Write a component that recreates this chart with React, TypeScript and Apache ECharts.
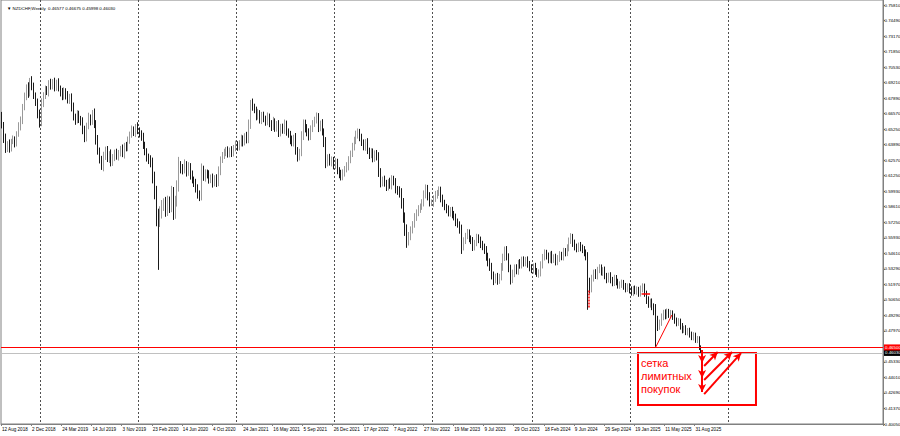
import React, { useEffect, useRef } from "react";
import * as echarts from "echarts";

// ---------- data ----------
const START_UTC = Date.UTC(2018, 7, 12); // first weekly bar: 12 Aug 2018
const SLOT_COUNT = 468; // bars + empty space on the right
const FIRST_OPEN = 0.662;
const TITLE_TEXT = "\u25BC NZDCHF,Weekly  0.46577 0.46675 0.45998 0.46030";
const LAST_SEPARATOR_YEAR = 2026;

const CLOSES = [
  0.6549, 0.644, 0.6345, 0.638, 0.6352, 0.641, 0.6421, 0.6395, 0.647, 0.653,
  0.6591, 0.67, 0.679, 0.6873, 0.682, 0.693, 0.688, 0.68, 0.6736, 0.665,
  0.6566, 0.6736, 0.68, 0.685, 0.683, 0.6907, 0.688, 0.692, 0.687, 0.6907,
  0.686, 0.683, 0.679, 0.684, 0.68, 0.676, 0.6788, 0.67, 0.6617, 0.659,
  0.664, 0.66, 0.6574, 0.651, 0.6438, 0.654, 0.6608, 0.658, 0.6651, 0.656,
  0.6421, 0.633, 0.625, 0.6191, 0.628, 0.6336, 0.626, 0.63, 0.6225, 0.627,
  0.631, 0.628, 0.631, 0.634, 0.63, 0.637, 0.6353, 0.642, 0.647, 0.6506,
  0.648, 0.6532, 0.65, 0.647, 0.6446, 0.638, 0.632, 0.6276, 0.625, 0.6225,
  0.61, 0.5969, 0.5764, 0.5738, 0.58, 0.586, 0.5883, 0.582, 0.59, 0.5849,
  0.5969, 0.5798, 0.59, 0.602, 0.62, 0.618, 0.6165, 0.621, 0.615, 0.6191,
  0.612, 0.608, 0.6054, 0.6, 0.596, 0.5935, 0.6165, 0.61, 0.614, 0.6122,
  0.608, 0.61, 0.6054, 0.609, 0.6054, 0.615, 0.625, 0.629, 0.631, 0.6336,
  0.63, 0.633, 0.631, 0.635, 0.638, 0.636, 0.6395, 0.643, 0.64, 0.645,
  0.6421, 0.655, 0.6736, 0.67, 0.6677, 0.662, 0.665, 0.6591, 0.663, 0.66,
  0.6574, 0.662, 0.656, 0.6532, 0.658, 0.652, 0.655, 0.6481, 0.653, 0.65,
  0.656, 0.6489, 0.647, 0.642, 0.6395, 0.644, 0.633, 0.6276, 0.631, 0.645,
  0.6566, 0.652, 0.648, 0.6446, 0.652, 0.656, 0.6591, 0.662, 0.6523, 0.656,
  0.6489, 0.64, 0.6225, 0.627, 0.623, 0.625, 0.62, 0.623, 0.616, 0.613,
  0.6105, 0.614, 0.617, 0.6191, 0.625, 0.63, 0.6361, 0.642, 0.646, 0.6489,
  0.644, 0.6395, 0.636, 0.64, 0.633, 0.6293, 0.632, 0.626, 0.63, 0.6276,
  0.615, 0.6054, 0.608, 0.605, 0.602, 0.606, 0.603, 0.609, 0.6063, 0.6,
  0.599, 0.5969, 0.588, 0.5764, 0.565, 0.556, 0.56, 0.5653, 0.57, 0.576,
  0.5798, 0.583, 0.585, 0.5883, 0.595, 0.6011, 0.594, 0.5883, 0.5883, 0.592,
  0.595, 0.5969, 0.5994, 0.592, 0.588, 0.5849, 0.583, 0.5798, 0.582, 0.578,
  0.5764, 0.572, 0.57, 0.5653, 0.5508, 0.556, 0.56, 0.5627, 0.558, 0.556,
  0.5508, 0.554, 0.559, 0.5568, 0.553, 0.551, 0.5483, 0.543, 0.538, 0.5338,
  0.527, 0.5227, 0.525, 0.522, 0.5252, 0.533, 0.542, 0.5483, 0.5423, 0.533,
  0.5227, 0.528, 0.533, 0.53, 0.5372, 0.535, 0.5397, 0.537, 0.5397, 0.536,
  0.533, 0.5312, 0.534, 0.53, 0.528, 0.5286, 0.535, 0.542, 0.5457, 0.543,
  0.54, 0.544, 0.5397, 0.542, 0.538, 0.541, 0.544, 0.542, 0.547, 0.5457,
  0.55, 0.556, 0.5593, 0.554, 0.5508, 0.549, 0.552, 0.55, 0.5483, 0.546,
  0.5423, 0.52, 0.515, 0.524, 0.5286, 0.526, 0.5312, 0.533, 0.529, 0.531,
  0.526, 0.523, 0.526, 0.5227, 0.52, 0.524, 0.521, 0.518, 0.5184, 0.5201,
  0.517, 0.515, 0.517, 0.5141, 0.512, 0.515, 0.513, 0.5141, 0.511, 0.515,
  0.5167, 0.511, 0.5056, 0.502, 0.504, 0.4996, 0.496, 0.4885, 0.483, 0.486,
  0.491, 0.4945, 0.492, 0.4954, 0.493, 0.494, 0.4911, 0.488, 0.486, 0.487,
  0.483, 0.48, 0.481, 0.4783, 0.479, 0.476, 0.474, 0.475, 0.4715, 0.472,
  0.46577, 0.4603,
];

// wick lengths in pips (0.0001) above the body top / below the body bottom
const UP_WICK_PIPS = [
  40, 25, 35, 30, 45, 20, 38, 30, 25, 42, 30, 28, 35, 22, 40, 20, 35, 30, 26, 38,
  30, 40, 28, 35, 30, 24, 36, 20, 32, 28, 40, 25, 35, 30, 22, 38, 26, 30, 40, 28,
  35, 30, 26, 40, 32, 28, 45, 30, 25, 38, 30, 42, 26, 35, 40, 28, 33, 25, 40, 30,
  28, 36, 25, 30, 42, 26, 34, 30, 22, 38, 30, 25, 40, 28, 33, 36, 25, 30, 28, 40,
  45, 50, 60, 70, 55, 48, 40, 52, 45, 38, 60, 50, 44, 56, 76, 40, 35, 45, 30, 40,
  32, 40, 28, 35, 42, 30, 55, 36, 30, 28, 40, 26, 34, 30, 38, 45, 30, 28, 36, 25,
  30, 26, 38, 28, 35, 30, 24, 36, 30, 28, 40, 45, 26, 38, 30, 28, 36, 25, 30, 32,
  28, 35, 26, 30, 38, 25, 32, 40, 28, 30, 35, 26, 30, 28, 38, 25, 40, 30, 35, 45,
  30, 28, 36, 40, 25, 30, 28, 35, 30, 26, 38, 30, 45, 28, 32, 30, 26, 35, 30, 28,
  36, 30, 28, 40, 32, 30, 35, 28, 40, 30, 26, 34, 30, 28, 36, 25, 30, 28, 32, 35,
  40, 30, 28, 36, 30, 26, 38, 30, 25, 32, 28, 35, 40, 45, 38, 50, 35, 30, 28, 36,
  30, 34, 28, 32, 40, 30, 26, 35, 30, 28, 36, 25, 30, 28, 34, 30, 26, 32, 28, 30,
  35, 28, 30, 26, 45, 30, 28, 34, 30, 26, 32, 28, 30, 25, 28, 30, 26, 32, 28, 30,
  34, 28, 30, 36, 26, 40, 30, 28, 32, 30, 26, 34, 28, 30, 25, 32, 28, 30, 26, 30,
  28, 30, 26, 32, 28, 30, 35, 28, 30, 26, 30, 28, 34, 25, 30, 28, 32, 26, 30, 28,
  30, 28, 32, 26, 30, 28, 25, 30, 28, 32, 26, 40, 45, 30, 28, 32, 26, 30, 28, 25,
  30, 26, 28, 32, 25, 30, 28, 26, 30, 28, 25, 30, 26, 28, 30, 25, 28, 30, 26, 28,
  30, 28, 25, 30, 26, 28, 30, 60, 35, 28, 30, 26, 30, 28, 25, 30, 26, 28, 25, 30,
  26, 28, 25, 30, 26, 28, 25, 30, 26, 28, 25, 10,
];
const DOWN_WICK_PIPS = [
  30, 45, 35, 28, 40, 30, 25, 38, 30, 22, 28, 35, 26, 30, 40, 28, 35, 30, 25, 45,
  40, 28, 35, 30, 26, 38, 30, 28, 35, 30, 25, 38, 30, 26, 34, 28, 32, 36, 30, 40,
  28, 35, 30, 40, 36, 30, 28, 35, 30, 38, 40, 35, 30, 26, 38, 30, 28, 35, 30, 26,
  30, 28, 35, 30, 26, 38, 30, 28, 32, 30, 26, 35, 30, 28, 32, 36, 30, 40, 35, 38,
  50, 55, 80, 426, 60, 50, 45, 55, 48, 52, 45, 60, 50, 48, 40, 45, 38, 30, 42, 35,
  38, 30, 35, 28, 40, 36, 30, 28, 35, 30, 32, 28, 40, 30, 35, 28, 30, 26, 32, 28,
  30, 28, 35, 30, 26, 32, 28, 30, 35, 26, 30, 28, 35, 30, 28, 32, 26, 30, 35, 28,
  32, 28, 30, 35, 26, 30, 28, 35, 30, 26, 28, 32, 30, 36, 28, 30, 35, 40, 30, 28,
  30, 35, 28, 30, 26, 32, 28, 30, 35, 28, 30, 40, 45, 30, 28, 35, 30, 28, 32, 36,
  30, 28, 32, 26, 30, 28, 25, 30, 35, 28, 30, 26, 28, 32, 30, 35, 28, 30, 26, 30,
  45, 38, 30, 28, 35, 30, 26, 32, 30, 35, 38, 40, 45, 50, 48, 60, 40, 35, 30, 28,
  30, 28, 32, 26, 30, 28, 35, 30, 26, 32, 28, 30, 26, 32, 30, 28, 35, 30, 32, 28,
  30, 35, 28, 32, 60, 30, 28, 26, 32, 28, 35, 30, 26, 28, 32, 30, 35, 40, 38, 35,
  40, 45, 30, 35, 28, 30, 26, 32, 30, 38, 40, 28, 30, 26, 30, 28, 26, 30, 28, 30,
  30, 28, 32, 30, 28, 35, 30, 26, 28, 30, 32, 28, 30, 26, 30, 28, 30, 26, 28, 30,
  28, 30, 26, 32, 30, 28, 26, 30, 28, 32, 30, 229, 40, 30, 28, 26, 30, 28, 26, 30,
  28, 32, 26, 30, 28, 26, 30, 28, 30, 26, 28, 30, 26, 30, 28, 32, 26, 30, 28, 26,
  30, 28, 35, 32, 30, 28, 35, 230, 40, 30, 26, 28, 30, 26, 28, 30, 26, 28, 30, 26,
  28, 30, 26, 28, 30, 26, 28, 30, 26, 28, 30, 3,
];

// price scale labels, bottom to top
const Y_TICK_LABELS = [
  "0.40050", "0.41370", "0.42690", "0.44010", "0.45330", "0.46650", "0.47970",
  "0.49290", "0.50650", "0.51970", "0.53290", "0.54610", "0.55930", "0.57250",
  "0.58610", "0.59930", "0.61250", "0.62570", "0.63890", "0.65250", "0.66570",
  "0.67890", "0.69210", "0.70530", "0.71850", "0.73170", "0.74490", "0.75810",
];
const Y_HIDDEN_LABEL = 5; // covered by the price tags
const X_LABEL_EVERY = 16;

const PRICE_MIN = 0.39965;
const PRICE_MAX = 0.76151;

const RED_LEVEL = 0.465;
const RED_LEVEL_TEXT = "0.46500";
const BID_LEVEL = 0.4603;
const BID_TEXT = "0.46030";

// annotations, [bar index, price]
const TREND_LINE = [[347, 0.4655], [355.5, 0.4927]];
const RED_TICK_H = [[339.4, 0.5106], [343.9, 0.5106]];
const RED_TICK_V = [[311.2, 0.5135], [311.2, 0.499]];
const GRID_BOX = [[337.5, 0.4602], [400.1, 0.4159]];
const BOX_TEXT = "сетка\nлимитных\nпокупок";
const DOWN_ARROWS = [
  [[371.5, 0.4628], [371.5, 0.4517]],
  [[371.5, 0.4517], [371.5, 0.4389]],
  [[371.5, 0.4389], [371.5, 0.427]],
];
const UP_ARROWS = [
  [[372.6, 0.4492], [379.8, 0.4611]],
  [[372.6, 0.4372], [387.4, 0.4611]],
  [[372.6, 0.4252], [392.2, 0.4602]],
];

// ---------- helpers ----------
const MONTHS = ["Jan", "Feb", "Mar", "Apr", "May", "Jun", "Jul", "Aug", "Sep", "Oct", "Nov", "Dec"];
const weekDate = (i: number) => new Date(START_UTC + i * 7 * 86400000);
const CATEGORIES = Array.from({ length: SLOT_COUNT }, (_, i) => {
  const d = weekDate(i);
  return `${d.getUTCDate()} ${MONTHS[d.getUTCMonth()]} ${d.getUTCFullYear()}`;
});
const yearOf = (i: number) => weekDate(i).getUTCFullYear();

const CANDLES = CLOSES.map((c, i) => {
  const o = i === 0 ? FIRST_OPEN : CLOSES[i - 1];
  const hi = Math.max(o, c) + UP_WICK_PIPS[i] / 10000;
  const lo = Math.min(o, c) - DOWN_WICK_PIPS[i] / 10000;
  return [o, c, lo, hi];
});

const RED = "#ff0000";
const FONT = "Liberation Sans";
const SCALE_FONT = 4.4;
const X_LEFT = -0.5;
const X_RIGHT = SLOT_COUNT - 0.5;

const seg = (pts: number[][], style: any, arrow = false, label: any = { show: false }) => [
  { coord: pts[0], symbol: "none", lineStyle: style, label },
  {
    coord: pts[1],
    symbol: arrow ? "arrow" : "none",
    symbolSize: arrow ? [6, 8] : 0,
    lineStyle: style,
    label,
  },
];

const tag = (text: string, bg: string) => ({
  show: true,
  position: "end",
  distance: 1,
  formatter: text,
  backgroundColor: bg,
  color: "#fff",
  fontSize: SCALE_FONT,
  padding: [1, 1, 1, 1],
  fontFamily: FONT,
});

export default function App() {
  const ref = useRef<HTMLDivElement>(null);
  useEffect(() => {
    const chart = echarts.init(ref.current!, undefined, { renderer: "svg" });
    const labelEvery = (i: number) => i % X_LABEL_EVERY === 0 && i < CLOSES.length;
    const option: any = {
      animation: false,
      backgroundColor: "#ffffff",
      textStyle: { fontFamily: FONT },
      title: {
        text: TITLE_TEXT,
        left: 2,
        top: 1,
        textStyle: { fontSize: 4.4, fontWeight: "normal", color: "#000", fontFamily: FONT },
      },
      grid: {
        left: 1,
        right: 17,
        top: 0,
        bottom: 12,
        outerBoundsMode: "none",
        containLabel: false,
        show: true,
        borderColor: "#808080",
        borderWidth: 1,
        backgroundColor: "#ffffff",
      },
      xAxis: [
        {
          type: "category",
          data: CATEGORIES,
          boundaryGap: true,
          axisLine: { show: true, lineStyle: { color: "#808080" } },
          axisTick: { show: true, interval: labelEvery, length: 2, lineStyle: { color: "#808080" } },
          axisLabel: {
            interval: labelEvery,
            align: "left",
            margin: 3,
            fontSize: 4.6,
            color: "#000",
            fontFamily: FONT,
          },
          splitLine: {
            show: true,
            interval: (i: number) =>
              i > 0 && yearOf(i) !== yearOf(i - 1) && yearOf(i) <= LAST_SEPARATOR_YEAR,
            lineStyle: { color: "#505050", type: [2, 2], width: 1 },
          },
        },
        { type: "value", min: X_LEFT, max: X_RIGHT, show: false },
      ],
      yAxis: [
        {
          type: "value",
          min: PRICE_MIN,
          max: PRICE_MAX,
          show: false,
          splitLine: { show: false },
        },
        {
          type: "value",
          position: "right",
          min: 0,
          max: 424 / 15.5185,
          interval: 1,
          axisLine: { show: true, lineStyle: { color: "#808080" } },
          axisTick: { show: true, length: 2, lineStyle: { color: "#808080" } },
          splitLine: { show: false },
          axisLabel: {
            margin: 1.5,
            fontSize: SCALE_FONT,
            color: "#000",
            fontFamily: FONT,
            showMaxLabel: false,
            formatter: (v: number) => {
              const k = Math.round(v);
              if (Math.abs(v - k) > 0.01 || k === Y_HIDDEN_LABEL) return "";
              return Y_TICK_LABELS[k] ?? "";
            },
          },
        },
      ],
      series: [
        {
          type: "candlestick",
          xAxisIndex: 0,
          yAxisIndex: 0,
          data: CANDLES,
          barWidth: 1,
          itemStyle: {
            color: "#9a9a9a",
            color0: "#1a1a1a",
            borderColor: "#9a9a9a",
            borderColor0: "#1a1a1a",
            borderWidth: 1,
          },
          z: 3,
        },
        {
          type: "line",
          xAxisIndex: 1,
          yAxisIndex: 0,
          data: [],
          silent: true,
          z: 5,
          markLine: {
            silent: true,
            precision: 6,
            symbol: ["none", "none"],
            label: { show: false },
            data: [
              seg(
                [[X_LEFT, BID_LEVEL], [X_RIGHT, BID_LEVEL]],
                { color: "#c0c0c0", width: 1, type: "solid" },
                false,
                tag(BID_TEXT, "#000")
              ),
              seg(
                [[X_LEFT, RED_LEVEL], [X_RIGHT, RED_LEVEL]],
                { color: RED, width: 1, type: "solid" },
                false,
                tag(RED_LEVEL_TEXT, RED)
              ),
              seg(TREND_LINE, { color: RED, width: 1, type: "solid" }),
              seg(RED_TICK_H, { color: RED, width: 1.5, type: "solid" }),
              seg(RED_TICK_V, { color: RED, width: 1.5, type: [2, 1] }),
              ...DOWN_ARROWS.map((p) => seg(p, { color: RED, width: 2, type: "solid" }, true)),
              ...UP_ARROWS.map((p) => seg(p, { color: RED, width: 2, type: "solid" }, true)),
            ],
          },
          markArea: {
            silent: true,
            itemStyle: { color: "rgba(0,0,0,0)", borderColor: RED, borderWidth: 2 },
            label: {
              show: true,
              position: "insideTopLeft",
              distance: 4,
              formatter: BOX_TEXT,
              color: RED,
              fontSize: 11,
              lineHeight: 13,
              fontFamily: FONT,
            },
            data: [[{ coord: GRID_BOX[0] }, { coord: GRID_BOX[1] }]],
          },
        },
      ],
    };
    chart.setOption(option);
    return () => chart.dispose();
  }, []);
  return (
    <div
      ref={ref}
      style={{ position: "fixed", left: 0, top: 0, width: 900, height: 436, background: "#fff" }}
    />
  );
}
